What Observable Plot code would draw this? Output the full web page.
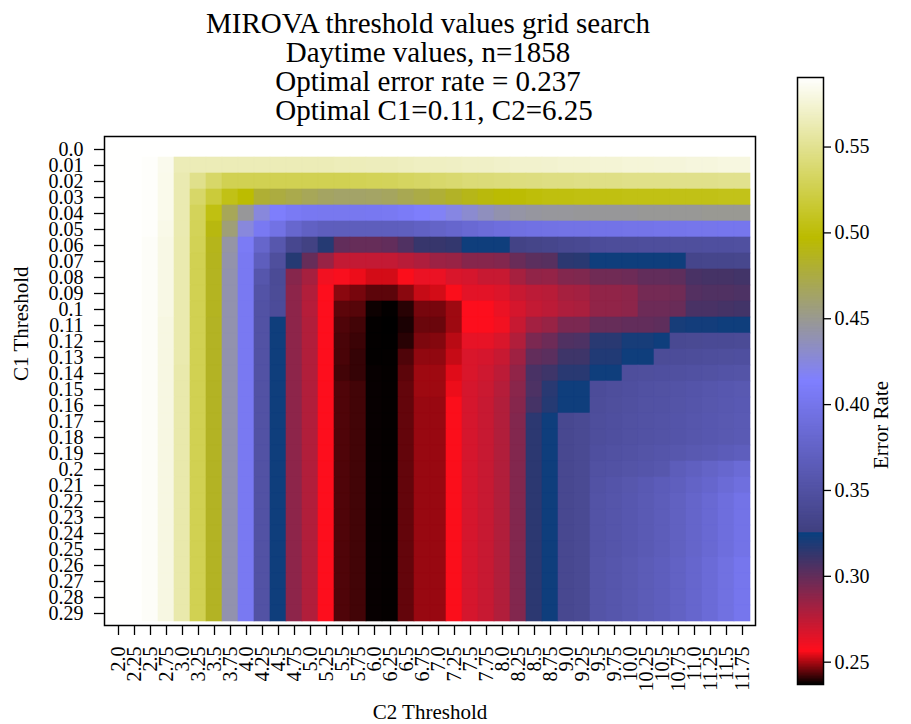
<!DOCTYPE html>
<html>
<head>
<meta charset="utf-8">
<script src="https://cdn.jsdelivr.net/npm/d3@7"></script>
<script src="https://cdn.jsdelivr.net/npm/@observablehq/plot@0.6"></script>
<style>
  body { margin: 0; background: white; }
  #chart { position: relative; width: 911px; height: 724px; }
  #chart svg { position: absolute; left: 0; top: 0; }
</style>
</head>
<body>
<div id="chart"></div>
<script>
const titleLines = [
  "MIROVA threshold values grid search",
  "Daytime values, n=1858",
  "Optimal error rate = 0.237",
  "Optimal C1=0.11, C2=6.25"
];

// C1 threshold (rows) and C2 threshold (columns) as printed on the axes
const c1Labels = ["0.0","0.01","0.02","0.03","0.04","0.05","0.06","0.07","0.08","0.09",
  "0.1","0.11","0.12","0.13","0.14","0.15","0.16","0.17","0.18","0.19",
  "0.2","0.21","0.22","0.23","0.24","0.25","0.26","0.27","0.28","0.29"];
const c2Labels = ["2.0","2.25","2.5","2.75","3.0","3.25","3.5","3.75","4.0","4.25",
  "4.5","4.75","5.0","5.25","5.5","5.75","6.0","6.25","6.5","6.75",
  "7.0","7.25","7.5","7.75","8.0","8.25","8.5","8.75","9.0","9.25",
  "9.5","9.75","10.0","10.25","10.5","10.75","11.0","11.25","11.5","11.75"];

// Error rate for each C1 row, one value per C2 column
const errorRate = [
  /* 0.0  */ [.590,.590,.590,.590, .590,.590,.590,.590,.590,.590,.590,.590,.590,.590, .590,.590,.590,.590,.590,.590,.590,.590,.590,.590,.590,.590,.590, .590,.590,.590,.590,.590,.590,.590,.590,.590,.590,.590,.590,.590],
  /* 0.01 */ [.590,.590,.589,.584, .564,.564,.564,.564,.564,.564,.564,.564,.564,.564, .565,.565,.566,.566,.567,.568,.568,.569,.570,.570,.571,.572,.572, .573,.574,.574,.575,.575,.576,.576,.577,.577,.578,.578,.579,.579],
  /* 0.02 */ [.590,.590,.589,.583, .562,.548,.535,.527,.527,.527,.527,.527,.527,.527, .527,.528,.529,.530,.532,.534,.536,.538,.540,.541,.542,.543,.544, .545,.545,.546,.546,.546,.547,.547,.547,.548,.548,.548,.549,.549],
  /* 0.03 */ [.590,.590,.589,.583, .562,.535,.518,.505,.497,.480,.476,.472,.468,.465, .463,.463,.464,.466,.470,.474,.479,.484,.489,.493,.496,.498,.500, .502,.502,.503,.503,.503,.504,.504,.504,.505,.505,.505,.506,.506],
  /* 0.04 */ [.590,.590,.589,.583, .562,.530,.503,.468,.447,.425,.412,.406,.404,.403, .403,.403,.404,.405,.408,.412,.417,.423,.429,.435,.440,.443,.445, .446,.446,.447,.447,.447,.447,.448,.448,.448,.448,.449,.449,.449],
  /* 0.05 */ [.590,.590,.589,.582, .562,.529,.492,.458,.425,.405,.395,.380,.372,.368, .367,.367,.367,.368,.369,.372,.375,.379,.383,.387,.390,.392,.394, .395,.396,.396,.397,.397,.398,.398,.399,.399,.400,.400,.401,.401],
  /* 0.06 */ [.590,.590,.588,.581, .561,.528,.488,.443,.407,.378,.357,.336,.328,.317, .300,.299,.299,.300,.305,.312,.312,.313,.323,.323,.323,.330,.332, .334,.337,.338,.343,.344,.344,.345,.345,.346,.346,.347,.347,.348],
  /* 0.07 */ [.590,.590,.588,.581, .561,.527,.487,.441,.405,.368,.346,.317,.299,.285, .273,.273,.273,.273,.276,.279,.284,.285,.290,.290,.291,.298,.302, .303,.315,.316,.323,.323,.323,.323,.323,.323,.333,.334,.334,.335],
  /* 0.08 */ [.590,.590,.588,.581, .561,.527,.486,.440,.405,.356,.341,.290,.281,.260, .258,.255,.253,.253,.256,.262,.262,.267,.268,.272,.272,.281,.287, .286,.291,.292,.296,.296,.297,.300,.300,.301,.307,.308,.308,.309],
  /* 0.09 */ [.590,.590,.588,.581, .561,.527,.486,.440,.405,.352,.342,.288,.278,.257, .2475,.246,.244,.244,.2475,.252,.253,.256,.264,.264,.266,.272,.275, .276,.281,.282,.287,.287,.288,.295,.295,.296,.304,.305,.305,.306],
  /* 0.1  */ [.590,.590,.588,.581, .561,.527,.486,.440,.405,.351,.343,.288,.277,.257, .244,.2435,.238,.2372,.240,.246,.246,.249,.257,.257,.262,.268,.273, .275,.279,.280,.287,.287,.288,.297,.297,.298,.307,.307,.308,.309],
  /* 0.11 */ [.590,.590,.588,.580, .561,.527,.485,.440,.405,.351,.323,.288,.278,.257, .243,.242,.2372,.237,.239,.245,.245,.249,.257,.257,.260,.272,.282, .285,.293,.293,.299,.299,.300,.300,.301,.321,.322,.322,.323,.323],
  /* 0.12 */ [.590,.590,.588,.580, .561,.527,.485,.440,.405,.351,.323,.288,.278,.257, .2425,.2415,.2372,.2371,.240,.2465,.247,.251,.263,.263,.267,.278,.293, .297,.305,.306,.316,.316,.321,.321,.323,.338,.339,.340,.340,.341],
  /* 0.13 */ [.590,.590,.588,.580, .561,.527,.485,.440,.405,.351,.323,.288,.278,.257, .2425,.241,.2372,.2372,.243,.248,.248,.252,.267,.268,.272,.283,.300, .302,.310,.310,.318,.318,.323,.323,.342,.343,.344,.345,.346,.347],
  /* 0.14 */ [.590,.590,.588,.580, .560,.527,.485,.440,.405,.351,.323,.288,.278,.257, .242,.241,.2375,.2373,.244,.249,.249,.254,.267,.270,.275,.287,.307, .310,.316,.316,.323,.323,.345,.346,.347,.348,.349,.350,.352,.353],
  /* 0.15 */ [.590,.590,.588,.580, .560,.527,.485,.440,.405,.351,.323,.288,.278,.257, .243,.242,.2375,.2373,.2445,.249,.249,.255,.268,.271,.277,.289,.306, .316,.323,.323,.343,.345,.347,.349,.350,.352,.354,.356,.358,.360],
  /* 0.16 */ [.590,.590,.588,.580, .560,.527,.485,.440,.405,.351,.323,.288,.278,.257, .243,.242,.2375,.2373,.2445,.2485,.2485,.256,.268,.272,.278,.290,.308, .317,.323,.323,.344,.346,.348,.350,.351,.353,.355,.357,.359,.361],
  /* 0.17 */ [.590,.590,.588,.580, .560,.527,.485,.440,.405,.351,.323,.288,.278,.257, .243,.242,.2375,.2373,.2445,.2485,.2485,.256,.268,.272,.278,.291,.315, .323,.337,.339,.345,.347,.349,.351,.352,.354,.356,.358,.360,.362],
  /* 0.18 */ [.590,.590,.588,.580, .560,.527,.485,.440,.405,.351,.323,.288,.278,.257, .243,.242,.2375,.2373,.2445,.2485,.2485,.256,.268,.272,.278,.291,.315, .323,.337,.339,.345,.347,.349,.351,.352,.354,.356,.358,.360,.362],
  /* 0.19 */ [.590,.590,.588,.580, .560,.527,.485,.440,.405,.351,.323,.288,.278,.257, .243,.242,.2375,.2373,.2445,.2485,.2485,.256,.268,.272,.278,.291,.315, .323,.337,.339,.347,.349,.351,.353,.355,.357,.360,.362,.365,.368],
  /* 0.2  */ [.590,.590,.588,.580, .560,.527,.485,.440,.405,.351,.323,.288,.278,.257, .243,.242,.2375,.2373,.2445,.2485,.2485,.256,.268,.272,.278,.291,.315, .323,.337,.339,.349,.351,.353,.355,.357,.366,.370,.375,.380,.385],
  /* 0.21 */ [.590,.590,.588,.580, .560,.527,.485,.440,.405,.351,.323,.288,.278,.257, .243,.242,.2375,.2373,.2445,.2485,.2485,.256,.268,.272,.278,.291,.315, .323,.337,.339,.351,.354,.357,.361,.365,.369,.374,.379,.385,.391],
  /* 0.22 */ [.590,.590,.588,.580, .560,.527,.485,.440,.405,.351,.323,.288,.278,.257, .243,.242,.2375,.2373,.2445,.2485,.2485,.256,.268,.272,.278,.291,.315, .323,.337,.339,.352,.355,.358,.362,.366,.371,.377,.383,.390,.397],
  /* 0.23 */ [.590,.590,.588,.580, .560,.527,.485,.440,.405,.351,.323,.288,.278,.257, .243,.242,.2375,.2373,.2445,.2485,.2485,.256,.268,.272,.278,.291,.315, .323,.337,.339,.352,.355,.358,.362,.366,.371,.377,.383,.390,.397],
  /* 0.24 */ [.590,.590,.588,.580, .560,.527,.485,.440,.405,.351,.323,.288,.278,.257, .243,.242,.2375,.2373,.2445,.2485,.2485,.256,.268,.272,.278,.291,.315, .323,.337,.339,.352,.355,.358,.362,.366,.371,.377,.383,.390,.397],
  /* 0.25 */ [.590,.590,.588,.580, .560,.527,.485,.440,.405,.351,.323,.288,.278,.257, .243,.242,.2375,.2373,.2445,.2485,.2485,.256,.268,.272,.278,.291,.315, .323,.337,.339,.352,.355,.358,.362,.366,.371,.377,.383,.390,.397],
  /* 0.26 */ [.590,.590,.588,.580, .560,.527,.485,.440,.405,.351,.323,.288,.278,.257, .243,.242,.2375,.2373,.2445,.2485,.2485,.256,.268,.272,.278,.291,.315, .323,.337,.339,.353,.356,.360,.364,.368,.373,.379,.386,.393,.401],
  /* 0.27 */ [.590,.590,.588,.580, .560,.527,.485,.440,.405,.351,.323,.288,.278,.257, .243,.242,.2375,.2373,.2445,.2485,.2485,.256,.268,.272,.278,.291,.315, .323,.337,.339,.353,.356,.360,.364,.368,.373,.379,.386,.393,.401],
  /* 0.28 */ [.590,.590,.588,.580, .560,.527,.485,.440,.405,.351,.323,.288,.278,.257, .243,.242,.2375,.2373,.2445,.2485,.2485,.256,.268,.272,.278,.291,.315, .323,.337,.339,.353,.356,.360,.364,.368,.373,.379,.386,.393,.401],
  /* 0.29 */ [.590,.590,.588,.580, .560,.527,.485,.440,.405,.351,.323,.288,.278,.257, .243,.242,.2375,.2373,.2445,.2485,.2485,.256,.268,.272,.278,.291,.315, .323,.337,.339,.353,.356,.360,.364,.368,.373,.379,.386,.393,.401]
];

const colorbarTicks = [0.25, 0.30, 0.35, 0.40, 0.45, 0.50, 0.55];
const colorDomain = [0.237, 0.5905];

// gist_stern colour map: piecewise-linear red / green / blue channels
function gistStern(t) {
  t = Math.max(0, Math.min(1, t));
  let r;
  if (t < 0.0547) r = t / 0.0547;
  else if (t < 0.25) r = 1 - (t - 0.0547) / (0.25 - 0.0547) * (1 - 0.027);
  else r = 0.25 + (t - 0.25) / 0.75 * 0.75;
  const g = t;
  let b;
  if (t < 0.5) b = 2 * t;
  else if (t < 0.735) b = 1 - (t - 0.5) / 0.235;
  else b = (t - 0.735) / 0.265;
  const c = v => Math.round(255 * Math.max(0, Math.min(1, v)));
  return `rgb(${c(r)},${c(g)},${c(b)})`;
}

const cells = c1Labels.flatMap((c1, i) =>
  c2Labels.map((c2, j) => ({c1, c2, error: errorRate[i][j]})));

const color = {type: "linear", domain: colorDomain, interpolate: gistStern, clamp: true};
const font = "'Liberation Serif', 'Times New Roman', serif";
const baseStyle = {fontFamily: font, fontSize: "20px", color: "black", background: "transparent", overflow: "visible"};

const heatmap = Plot.plot({
  width: 911,
  height: 724,
  marginLeft: 104,
  marginRight: 156,
  marginTop: 136,
  marginBottom: 99,
  style: baseStyle,
  x: {domain: c2Labels, padding: 0},
  y: {domain: c1Labels, padding: 0},
  color,
  marks: [
    Plot.cell(cells, {x: "c2", y: "c1", fill: "error", stroke: "error", strokeWidth: 0.6}),
    Plot.frame({stroke: "black", strokeWidth: 1.5}),
    Plot.axisY({tickSize: 10, tickPadding: 11, fontSize: 20, strokeWidth: 1.3, label: null}),
    Plot.axisX({tickRotate: -90, tickSize: 10, tickPadding: 11, fontSize: 20, strokeWidth: 1.3, label: null}),
    Plot.text(["C2 Threshold"], {frameAnchor: "bottom", lineAnchor: "middle", dy: 87, fontSize: 21}),
    Plot.text(["C1 Threshold"], {frameAnchor: "left", lineAnchor: "middle", dx: -83, rotate: -90, fontSize: 21}),
    ...titleLines.map((line, i) =>
      Plot.text([line], {frameAnchor: "top", lineAnchor: "middle", dy: -112.5 + 29 * i, dx: i === 3 ? 4 : -2, fontSize: 29}))
  ]
});

// Colour bar: a ramp of thin rectangles drawn through the same colour scale
const rampSteps = 400;
const rampStep = (colorDomain[1] - colorDomain[0]) / rampSteps;
const ramp = d3.range(rampSteps).map(i => colorDomain[0] + i * rampStep);

const colorbar = Plot.plot({
  width: 911,
  height: 724,
  marginLeft: 797,
  marginRight: 88,
  marginTop: 77,
  marginBottom: 40,
  style: baseStyle,
  x: {domain: [0, 1], axis: null},
  y: {domain: colorDomain},
  color,
  marks: [
    Plot.rect(ramp, {x1: 0, x2: 1, y1: d => d, y2: d => Math.min(colorDomain[1], d + rampStep * 1.6), fill: d => d + rampStep / 2}),
    Plot.frame({stroke: "black", strokeWidth: 1.5}),
    Plot.axisY({anchor: "right", ticks: colorbarTicks, tickFormat: d3.format(".2f"), tickSize: 7, tickPadding: 4, fontSize: 20, strokeWidth: 1.3, label: null}),
    Plot.text(["Error Rate"], {frameAnchor: "right", lineAnchor: "middle", dx: 58, rotate: -90, fontSize: 21})
  ]
});

const chart = document.getElementById("chart");
chart.appendChild(heatmap);
chart.appendChild(colorbar);
</script>
</body>
</html>
